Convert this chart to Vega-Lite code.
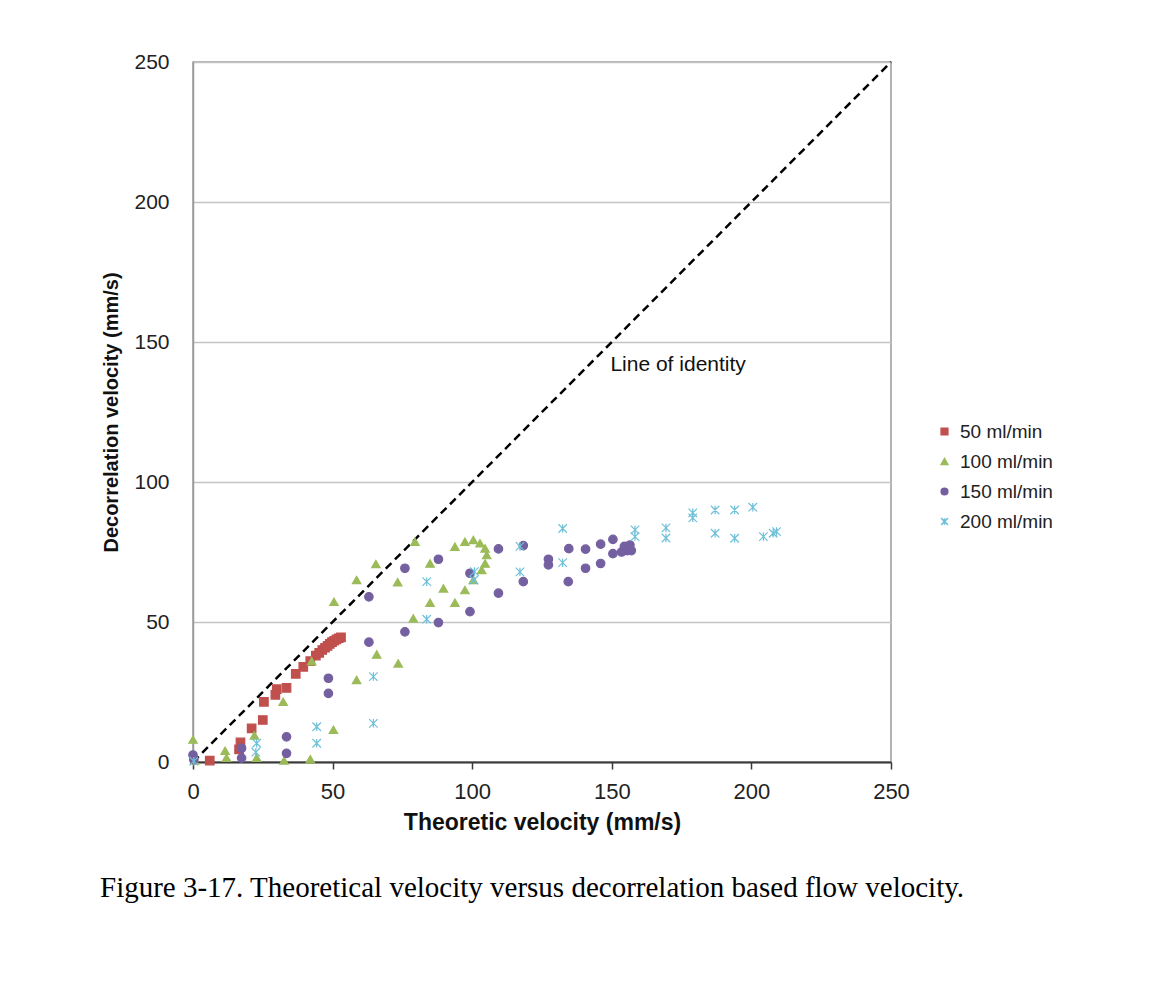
{
  "$schema": "https://vega.github.io/schema/vega-lite/v6.json",
  "autosize": {"type": "none"},
  "width": 698,
  "height": 700,
  "padding": {"left": 193, "top": 62, "right": 262, "bottom": 220},
  "background": "white",
  "title": {
    "text": "Figure 3-17. Theoretical velocity versus decorrelation based flow velocity.",
    "orient": "bottom",
    "anchor": "start",
    "frame": "group",
    "dx": -93,
    "offset": 40,
    "font": "Liberation Serif",
    "fontSize": 29,
    "fontWeight": "normal",
    "color": "black"
  },
  "config": {
    "view": {"stroke": "#9a9a9a", "strokeWidth": 1.5},
    "axis": {
      "labelFont": "Liberation Sans",
      "labelColor": "#222222",
      "titleFont": "Liberation Sans",
      "titleFontWeight": "bold",
      "titleColor": "#111111",
      "labelFlush": false
    },
    "legend": {
      "labelFont": "Liberation Sans",
      "labelFontSize": 19,
      "labelColor": "#222222"
    }
  },
  "datasets": {
    "pts": [
      {"s": "50 ml/min", "x": 6, "y": 0.5},
      {"s": "50 ml/min", "x": 16.5, "y": 4.5},
      {"s": "50 ml/min", "x": 17, "y": 7},
      {"s": "50 ml/min", "x": 21, "y": 12},
      {"s": "50 ml/min", "x": 25, "y": 15},
      {"s": "50 ml/min", "x": 25.4, "y": 21.5},
      {"s": "50 ml/min", "x": 29.5, "y": 24},
      {"s": "50 ml/min", "x": 30, "y": 26},
      {"s": "50 ml/min", "x": 33.5, "y": 26.5},
      {"s": "50 ml/min", "x": 36.8, "y": 31.5},
      {"s": "50 ml/min", "x": 39.5, "y": 34},
      {"s": "50 ml/min", "x": 42, "y": 36},
      {"s": "50 ml/min", "x": 44, "y": 38},
      {"s": "50 ml/min", "x": 45.2, "y": 39},
      {"s": "50 ml/min", "x": 46.3, "y": 40},
      {"s": "50 ml/min", "x": 47.3, "y": 40.8},
      {"s": "50 ml/min", "x": 48.2, "y": 41.5},
      {"s": "50 ml/min", "x": 49, "y": 42.2},
      {"s": "50 ml/min", "x": 49.8, "y": 42.8},
      {"s": "50 ml/min", "x": 50.6, "y": 43.3},
      {"s": "50 ml/min", "x": 51.4, "y": 43.8},
      {"s": "50 ml/min", "x": 52.2, "y": 44.2},
      {"s": "50 ml/min", "x": 53, "y": 44.5},

      {"s": "100 ml/min", "x": 0, "y": 8},
      {"s": "100 ml/min", "x": 0.5, "y": 0.5},
      {"s": "100 ml/min", "x": 11.5, "y": 4},
      {"s": "100 ml/min", "x": 12, "y": 1.5},
      {"s": "100 ml/min", "x": 22, "y": 9.5},
      {"s": "100 ml/min", "x": 22.8, "y": 1.5},
      {"s": "100 ml/min", "x": 32.3, "y": 21.5},
      {"s": "100 ml/min", "x": 32.6, "y": 0.5},
      {"s": "100 ml/min", "x": 42, "y": 1},
      {"s": "100 ml/min", "x": 42.5, "y": 36},
      {"s": "100 ml/min", "x": 50.3, "y": 11.5},
      {"s": "100 ml/min", "x": 50.5, "y": 57.2},
      {"s": "100 ml/min", "x": 58.6, "y": 65},
      {"s": "100 ml/min", "x": 58.6, "y": 29.3},
      {"s": "100 ml/min", "x": 65.5, "y": 70.7},
      {"s": "100 ml/min", "x": 65.8, "y": 38.4},
      {"s": "100 ml/min", "x": 73.3, "y": 64.2},
      {"s": "100 ml/min", "x": 73.5, "y": 35.2},
      {"s": "100 ml/min", "x": 78.9, "y": 51.3},
      {"s": "100 ml/min", "x": 79.5, "y": 78.7},
      {"s": "100 ml/min", "x": 84.9, "y": 56.9},
      {"s": "100 ml/min", "x": 84.9, "y": 70.9},
      {"s": "100 ml/min", "x": 89.7, "y": 62},
      {"s": "100 ml/min", "x": 93.8, "y": 56.9},
      {"s": "100 ml/min", "x": 93.8, "y": 76.9},
      {"s": "100 ml/min", "x": 97.4, "y": 61.4},
      {"s": "100 ml/min", "x": 97.4, "y": 78.7},
      {"s": "100 ml/min", "x": 100.4, "y": 65},
      {"s": "100 ml/min", "x": 100.4, "y": 79.3},
      {"s": "100 ml/min", "x": 102.8, "y": 78.1},
      {"s": "100 ml/min", "x": 104.6, "y": 76.3},
      {"s": "100 ml/min", "x": 105.2, "y": 73.9},
      {"s": "100 ml/min", "x": 104.6, "y": 70.9},
      {"s": "100 ml/min", "x": 103.4, "y": 68.6},

      {"s": "150 ml/min", "x": 0, "y": 2.5},
      {"s": "150 ml/min", "x": 0.3, "y": 0.8},
      {"s": "150 ml/min", "x": 17.4, "y": 4.9},
      {"s": "150 ml/min", "x": 17.4, "y": 1.4},
      {"s": "150 ml/min", "x": 33.5, "y": 9},
      {"s": "150 ml/min", "x": 33.5, "y": 3.1},
      {"s": "150 ml/min", "x": 48.5, "y": 29.9},
      {"s": "150 ml/min", "x": 48.5, "y": 24.5},
      {"s": "150 ml/min", "x": 63, "y": 59},
      {"s": "150 ml/min", "x": 63, "y": 42.8},
      {"s": "150 ml/min", "x": 75.9, "y": 46.5},
      {"s": "150 ml/min", "x": 75.9, "y": 69.2},
      {"s": "150 ml/min", "x": 87.9, "y": 49.8},
      {"s": "150 ml/min", "x": 87.9, "y": 72.4},
      {"s": "150 ml/min", "x": 99.2, "y": 53.7},
      {"s": "150 ml/min", "x": 99.2, "y": 67.4},
      {"s": "150 ml/min", "x": 109.4, "y": 60.3},
      {"s": "150 ml/min", "x": 109.4, "y": 76.1},
      {"s": "150 ml/min", "x": 118.3, "y": 64.4},
      {"s": "150 ml/min", "x": 118.3, "y": 77.3},
      {"s": "150 ml/min", "x": 127.3, "y": 72.4},
      {"s": "150 ml/min", "x": 127.3, "y": 70.4},
      {"s": "150 ml/min", "x": 134.4, "y": 64.4},
      {"s": "150 ml/min", "x": 134.6, "y": 76.2},
      {"s": "150 ml/min", "x": 140.6, "y": 69.2},
      {"s": "150 ml/min", "x": 140.6, "y": 76},
      {"s": "150 ml/min", "x": 146, "y": 70.9},
      {"s": "150 ml/min", "x": 146, "y": 77.8},
      {"s": "150 ml/min", "x": 150.4, "y": 74.4},
      {"s": "150 ml/min", "x": 150.4, "y": 79.5},
      {"s": "150 ml/min", "x": 153.5, "y": 75},
      {"s": "150 ml/min", "x": 154.5, "y": 77},
      {"s": "150 ml/min", "x": 155.5, "y": 75.5},
      {"s": "150 ml/min", "x": 156.5, "y": 77.5},
      {"s": "150 ml/min", "x": 157, "y": 75.5},

      {"s": "200 ml/min", "x": 0.3, "y": 0.3},
      {"s": "200 ml/min", "x": 22.8, "y": 6.7},
      {"s": "200 ml/min", "x": 22.5, "y": 3.5},
      {"s": "200 ml/min", "x": 44.3, "y": 12.6},
      {"s": "200 ml/min", "x": 44.3, "y": 6.7},
      {"s": "200 ml/min", "x": 64.6, "y": 30.5},
      {"s": "200 ml/min", "x": 64.6, "y": 13.8},
      {"s": "200 ml/min", "x": 83.7, "y": 64.4},
      {"s": "200 ml/min", "x": 83.7, "y": 51},
      {"s": "200 ml/min", "x": 100.6, "y": 65},
      {"s": "200 ml/min", "x": 100.8, "y": 68},
      {"s": "200 ml/min", "x": 117.1, "y": 67.9},
      {"s": "200 ml/min", "x": 117.1, "y": 77},
      {"s": "200 ml/min", "x": 132.4, "y": 83.4},
      {"s": "200 ml/min", "x": 132.4, "y": 71.2},
      {"s": "200 ml/min", "x": 158.3, "y": 82.9},
      {"s": "200 ml/min", "x": 158.3, "y": 80.5},
      {"s": "200 ml/min", "x": 169.4, "y": 83.6},
      {"s": "200 ml/min", "x": 169.4, "y": 80},
      {"s": "200 ml/min", "x": 179, "y": 89},
      {"s": "200 ml/min", "x": 179, "y": 87.2},
      {"s": "200 ml/min", "x": 187, "y": 90},
      {"s": "200 ml/min", "x": 187, "y": 81.7},
      {"s": "200 ml/min", "x": 194, "y": 90},
      {"s": "200 ml/min", "x": 194, "y": 79.9},
      {"s": "200 ml/min", "x": 200.5, "y": 91},
      {"s": "200 ml/min", "x": 204.3, "y": 80.5},
      {"s": "200 ml/min", "x": 207.8, "y": 81.7},
      {"s": "200 ml/min", "x": 209, "y": 82.3}
    ],
    "identity": [
      {"x": 0, "y": 0},
      {"x": 250, "y": 250}
    ],
    "label": [
      {"x": 149.5, "y": 141.8, "text": "Line of identity"}
    ]
  },
  "layer": [
    {
      "data": {"name": "identity"},
      "mark": {"type": "line", "color": "black", "strokeWidth": 2.5, "strokeDash": [8, 5], "clip": false},
      "encoding": {
        "x": {
          "field": "x", "type": "quantitative",
          "scale": {"domain": [0, 250], "nice": false},
          "axis": {
            "values": [0, 50, 100, 150, 200, 250],
            "title": "Theoretic velocity (mm/s)",
            "grid": false,
            "domainColor": "#3a3a3a",
            "domainWidth": 2,
            "tickColor": "#3a3a3a",
            "tickWidth": 1.5,
            "tickSize": 7,
            "labelFontSize": 22,
            "labelPadding": 12,
            "titleFontSize": 23,
            "titlePadding": 9
          }
        },
        "y": {
          "field": "y", "type": "quantitative",
          "scale": {"domain": [0, 250], "nice": false},
          "axis": {
            "values": [0, 50, 100, 150, 200, 250],
            "title": "Decorrelation velocity (mm/s)",
            "grid": true,
            "gridColor": "#c4c4c4",
            "gridWidth": 1.5,
            "domainColor": "#9a9a9a",
            "domainWidth": 1.5,
            "ticks": false,
            "labelFontSize": 21,
            "labelPadding": 24,
            "titleFontSize": 20,
            "titlePadding": 12
          }
        }
      }
    },
    {
      "mark": {"type": "rule", "color": "#3a3a3a", "strokeWidth": 2},
      "encoding": {"x": {"datum": 250}}
    },
    {
      "data": {"name": "label"},
      "mark": {"type": "text", "align": "left", "baseline": "middle", "font": "Liberation Sans", "fontSize": 21, "color": "#111111"},
      "encoding": {
        "x": {"field": "x", "type": "quantitative"},
        "y": {"field": "y", "type": "quantitative"},
        "text": {"field": "text"}
      }
    },
    {
      "data": {"name": "pts"},
      "mark": {"type": "point", "filled": true, "size": 72, "strokeWidth": 1.2, "opacity": 1},
      "encoding": {
        "x": {"field": "x", "type": "quantitative"},
        "y": {"field": "y", "type": "quantitative"},
        "color": {
          "field": "s", "type": "nominal",
          "scale": {"domain": ["50 ml/min", "100 ml/min", "150 ml/min", "200 ml/min"], "range": ["#C0504D", "#9BBB59", "#7460A0", "#6EC0D8"]},
          "legend": {"title": null, "orient": "none", "legendX": 742, "legendY": 360, "symbolSize": 45, "rowPadding": 10, "labelOffset": 6}
        },
        "stroke": {
          "field": "s", "type": "nominal",
          "scale": {"domain": ["50 ml/min", "100 ml/min", "150 ml/min", "200 ml/min"], "range": ["#C0504D", "#9BBB59", "#7460A0", "#6EC0D8"]},
          "legend": {"title": null, "orient": "none", "legendX": 742, "legendY": 360, "symbolSize": 45, "rowPadding": 10, "labelOffset": 6}
        },
        "shape": {
          "field": "s", "type": "nominal",
          "scale": {"domain": ["50 ml/min", "100 ml/min", "150 ml/min", "200 ml/min"], "range": ["square", "triangle-up", "circle", "M-1,-1L1,1M1,-1L-1,1M0,-1L0,1"]},
          "legend": {"title": null, "orient": "none", "legendX": 742, "legendY": 360, "symbolSize": 45, "rowPadding": 10, "labelOffset": 6}
        }
      }
    }
  ]
}
